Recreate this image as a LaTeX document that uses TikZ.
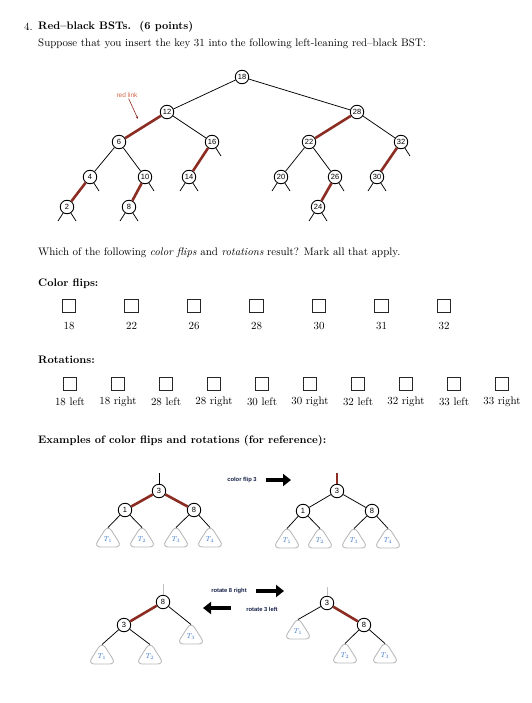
\documentclass[tikz,border=0pt]{standalone}
\usepackage{fontspec}
\newfontfamily\figfont{Liberation Sans}
\usetikzlibrary{arrows.meta}

% rounded triangle for a subtree: name, apex x, apex y, label
\newcommand{\subtree}[4]{%
  \draw[subtree] (#2,#3) -- ++(14,22) -- ++(-28,0) -- cycle;
  \coordinate (#1) at (#2,#3+2.5);
  \node[tlabel] (#1-lab) at (#2,#3+14.5) {$T_{#4}$};
}

\tikzset{
  bstnode/.style={circle, draw, line width=0.9pt, fill=white, inner sep=0pt,
    minimum size=13.5pt, font=\figfont\fontsize{7.5}{8}\selectfont},
  blacklink/.style={line width=0.75pt},
  redlink/.style={draw=linkred, line width=2.6pt},
  graystem/.style={draw=gray!50, line width=1pt},
  subtree/.style={draw=gray!55, line width=0.9pt, rounded corners=6.5pt},
  tlabel/.style={text=tblue, inner sep=0pt, font=\fontsize{7.5}{8}\selectfont},
  checkbox/.style={draw=black!85, line width=1.2pt, minimum size=13.5pt, inner sep=0pt},
  oplabel/.style={text=opnavy, inner sep=0pt, font=\figfont\bfseries\fontsize{5.8}{6}\selectfont},
  bigarrow/.style={line width=4pt, -{Triangle[length=8pt,width=12pt]}},
  txt/.style={anchor=west, inner sep=0pt, font=\fontsize{10.9}{13}\selectfont},
  boxlabel/.style={inner sep=0pt, font=\fontsize{10.9}{13}\selectfont},
}

\begin{document}
\begin{tikzpicture}[x=1pt, y=-1pt]

% colours
\definecolor{linkred}{RGB}{140,45,35}
\definecolor{linkorange}{RGB}{205,100,70}
\definecolor{tblue}{RGB}{60,120,200}
\definecolor{opnavy}{RGB}{20,30,70}

\useasboundingbox (0,0) rectangle (531,703);

% Question text
\node[txt] (num) at (24,27) {4.};
\node[txt] (title) at (38,27) {\bfseries Red--black BSTs.\ \ (6 points)};
\node[txt] (intro) at (38,44) {Suppose that you insert the key 31 into the following left-leaning red--black BST:};

% BST nodes
\foreach \k/\x/\y in {18/242/77, 12/167/112, 28/357/112, 6/119/142, 16/212/142,
  22/309/142, 32/401/142, 4/90/177, 10/145/177, 14/189/177, 20/281/177,
  26/335/177, 30/377/177, 2/67/207, 8/129/207, 24/318/207} {
  \node[bstnode] (k\k) at (\x,\y) {\k};
}

% links
\foreach \a/\b in {18/12, 18/28, 12/16, 6/4, 6/10, 22/20, 22/26, 28/32} {
  \draw[blacklink] (k\a) -- (k\b);
}
\foreach \a/\b in {12/6, 4/2, 10/8, 16/14, 28/22, 26/24, 32/30} {
  \draw[redlink] (k\a) -- (k\b);
}

% null links
\foreach \n in {2, 8, 14, 20, 24, 30} {
  \path (k\n) ++(-9,14) coordinate (k\n-l);
  \draw[blacklink] (k\n) -- (k\n-l);
}
\foreach \n in {2, 8, 14, 20, 24, 30, 4, 10, 16, 26, 32} {
  \path (k\n) ++(9,14) coordinate (k\n-r);
  \draw[blacklink] (k\n) -- (k\n-r);
}

% red link note
\node[text=linkorange, inner sep=1pt, font=\figfont\fontsize{6.5}{7}\selectfont] (rednote) at (127,95) {red link};
\coordinate (redtip) at (138,119);
\draw[linkred, line width=0.6pt, -{Stealth[length=3pt]}] (rednote) -- (redtip);

\node[txt] (which) at (38,253) {Which of the following \emph{color flips} and \emph{rotations} result? Mark all that apply.};

% Color flips
\node[txt] (cfhead) at (38,284) {\bfseries Color flips:};
\foreach \k [count=\i] in {18,22,26,28,30,31,32} {
  \node[checkbox] (cf\i) at ({69+62.5*(\i-1)},306) {};
  \node[boxlabel] (cfl\i) at ({69+62.5*(\i-1)},326) {\k};
}

% Rotations
\node[txt] (rothead) at (38,360) {\bfseries Rotations:};
\foreach \k [count=\i] in {18 left, 18 right, 28 left, 28 right, 30 left,
  30 right, 32 left, 32 right, 33 left, 33 right} {
  \node[checkbox] (rt\i) at ({70+48*(\i-1)},384) {};
  \node[boxlabel] (rtl\i) at ({70+48*(\i-1)},402) {\k};
}

\node[txt] (exhead) at (38,441) {\bfseries Examples of color flips and rotations (for reference):};

% Example: color flip, before
\node[bstnode] (a3) at (159,491) {3};
\node[bstnode] (a1) at (125,510) {1};
\node[bstnode] (a8) at (194,510) {8};
\coordinate (a-up) at (159,473);
\draw[blacklink] (a-up) -- (a3);
\draw[redlink] (a3) -- (a1);
\draw[redlink] (a3) -- (a8);
\subtree{aT1}{108}{525}{1}
\subtree{aT2}{142}{525}{2}
\subtree{aT3}{176}{525}{3}
\subtree{aT4}{210}{525}{4}
\draw[blacklink] (a1) -- (aT1);
\draw[blacklink] (a1) -- (aT2);
\draw[blacklink] (a8) -- (aT3);
\draw[blacklink] (a8) -- (aT4);

\node[oplabel] (flip) at (242,480) {color flip 3};
\coordinate (flipA) at (266,480);
\coordinate (flipB) at (291,480);
\draw[bigarrow] (flipA) -- (flipB);

% Example: color flip, after
\node[bstnode] (b3) at (337,491) {3};
\node[bstnode] (b1) at (303,511) {1};
\node[bstnode] (b8) at (372,511) {8};
\coordinate (b-up) at (337,473);
\draw[redlink] (b-up) -- (b3);
\draw[blacklink] (b3) -- (b1);
\draw[blacklink] (b3) -- (b8);
\subtree{bT1}{287}{526}{1}
\subtree{bT2}{320}{526}{2}
\subtree{bT3}{354}{526}{3}
\subtree{bT4}{388}{526}{4}
\draw[blacklink] (b1) -- (bT1);
\draw[blacklink] (b1) -- (bT2);
\draw[blacklink] (b8) -- (bT3);
\draw[blacklink] (b8) -- (bT4);

% Example: rotation, left-leaning
\node[bstnode] (c8) at (163,602) {8};
\node[bstnode] (c3) at (124,625) {3};
\coordinate (c-up) at (163,584);
\draw[graystem] (c-up) -- (c8);
\draw[redlink] (c8) -- (c3);
\subtree{cT1}{102}{642}{1}
\subtree{cT2}{150}{642}{2}
\subtree{cT3}{191}{622}{3}
\draw[blacklink] (c3) -- (cT1);
\draw[blacklink] (c3) -- (cT2);
\draw[blacklink] (c8) -- (cT3);

\node[oplabel] (rotr) at (229,591) {rotate 8 right};
\coordinate (rotrA) at (256,591);
\coordinate (rotrB) at (284,591);
\draw[bigarrow] (rotrA) -- (rotrB);
\node[oplabel] (rotl) at (262,609) {rotate 3 left};
\coordinate (rotlA) at (231,608);
\coordinate (rotlB) at (203,608);
\draw[bigarrow] (rotlA) -- (rotlB);

% Example: rotation, right-leaning
\node[bstnode] (d3) at (327,603) {3};
\node[bstnode] (d8) at (364,625) {8};
\coordinate (d-up) at (327,587);
\draw[graystem] (d-up) -- (d3);
\draw[redlink] (d3) -- (d8);
\subtree{dT1}{298}{617}{1}
\subtree{dT2}{345}{641}{2}
\subtree{dT3}{385}{641}{3}
\draw[blacklink] (d3) -- (dT1);
\draw[blacklink] (d8) -- (dT2);
\draw[blacklink] (d8) -- (dT3);

\end{tikzpicture}
\end{document}
